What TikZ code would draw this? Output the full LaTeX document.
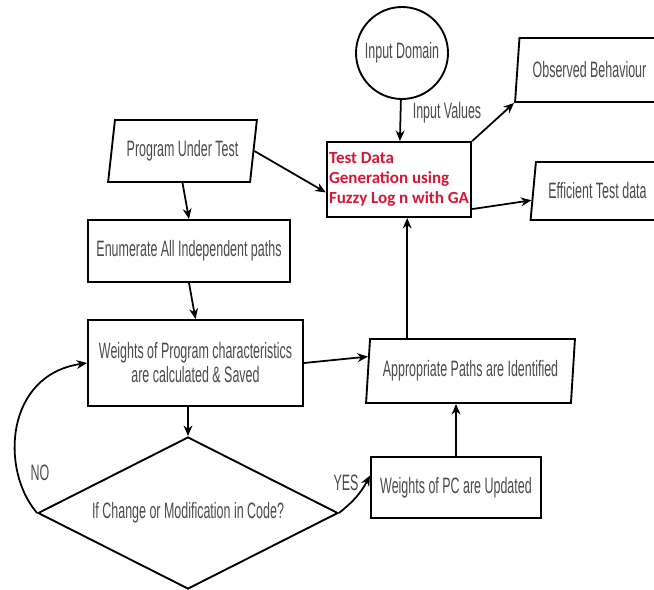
\documentclass[tikz,border=0pt]{standalone}
\usepackage{fontspec}
\setmainfont{Liberation Sans}[FakeStretch=0.56]
\newfontfamily\calfont{Carlito}
\usetikzlibrary{shapes.geometric,arrows.meta}
\definecolor{txtgray}{RGB}{75,75,75}
\definecolor{fuzzyred}{RGB}{218,22,55}
\begin{document}
\begin{tikzpicture}[x=0.03cm,y=-0.03cm]
		  \tikzstyle{every node}=[font=\fontsize{19}{20.5}\selectfont,text=txtgray]
		  \tikzstyle{box}=[draw=black,line width=1.6pt,rectangle,inner sep=2pt]
		  \tikzstyle{iobox}=[draw=black,line width=1.6pt,trapezium,trapezium stretches=true,inner sep=2pt]
		  \tikzstyle{link}=[line width=1.5pt,-{Stealth[length=9pt,width=7.5pt]}]
		  \useasboundingbox (0,0) rectangle (654,589);
		  \clip (0,0) rectangle (654,589);
		  \fill[white] (0,0) rectangle (654,589);
		  % nodes
		  \node[draw=black,line width=1.6pt,circle,minimum size=2.76cm,inner sep=0pt] (indom) at (402,53) {Input Domain};
		  \node[box,minimum width=4.32cm,minimum height=2.25cm,align=left,text=fuzzyred,font=\calfont\bfseries\fontsize{14.5}{17}\selectfont] (tdg) at (399,179.5) {Test Data\\Generation using\\Fuzzy Log n with GA};
		  \node[iobox,trapezium left angle=77,trapezium right angle=103,minimum width=4.47cm,minimum height=1.86cm] (put) at (182.5,151) {Program Under Test};
		  \node[iobox,trapezium left angle=80,trapezium right angle=100,minimum width=4.47cm,minimum height=1.92cm] (obs) at (589.5,70) {Observed Behaviour};
		  \node[iobox,trapezium left angle=78,trapezium right angle=102,minimum width=4.05cm,minimum height=1.74cm] (eff) at (597.5,191) {Efficient Test data};
		  \node[box,minimum width=6.06cm,minimum height=1.86cm] (enum) at (189,251) {Enumerate All Independent paths};
		  \node[box,minimum width=6.45cm,minimum height=2.58cm,align=center] (wts) at (195.5,363) {Weights of Program characteristics\\are calculated \& Saved};
		  \node[iobox,trapezium left angle=82,trapezium right angle=98,minimum width=6.27cm,minimum height=1.92cm] (app) at (470.5,371) {Appropriate Paths are Identified};
		  \node[box,minimum width=5.1cm,minimum height=1.83cm] (wpc) at (456,487.5) {Weights of PC are Updated};
		  \node[draw=black,line width=1.6pt,diamond,aspect=1.97,minimum width=9cm,minimum height=4.56cm,inner sep=0pt] (chg) at (188,513) {If Change or Modification in Code?};
		  % labels
		  \node (ival) at (447,113) {Input Values};
		  \node (no) at (40,473) {NO};
		  \node (yes) at (346,483) {YES};
		  % connectors
		  \draw[link] (indom) -- (tdg);
		  \draw[link] (put.east) -- (tdg.190);
		  \draw[link] (tdg.north east) -- (obs.bottom left corner);
		  \draw[link] (tdg.-22) -- (eff.188);
		  \draw[link] (put.south) -- (enum.north);
		  \draw[link] (enum.south) -- (wts.north);
		  \draw[link] (wts.east) -- (app.172);
		  \draw[link] (tdg.-78 |- app.north) -- (tdg.-78);
		  \draw[link] (wpc.north) -- (wpc.north |- app.south);
		  \draw[link] (chg.north |- wts.south) -- (chg.north);
		  \draw[link] (chg.west) .. controls (0,470) and (5,375) .. (wts.west);
		  \draw[link] (chg.east) to[bend right=12] (wpc.172);
		\end{tikzpicture}
\end{document}
